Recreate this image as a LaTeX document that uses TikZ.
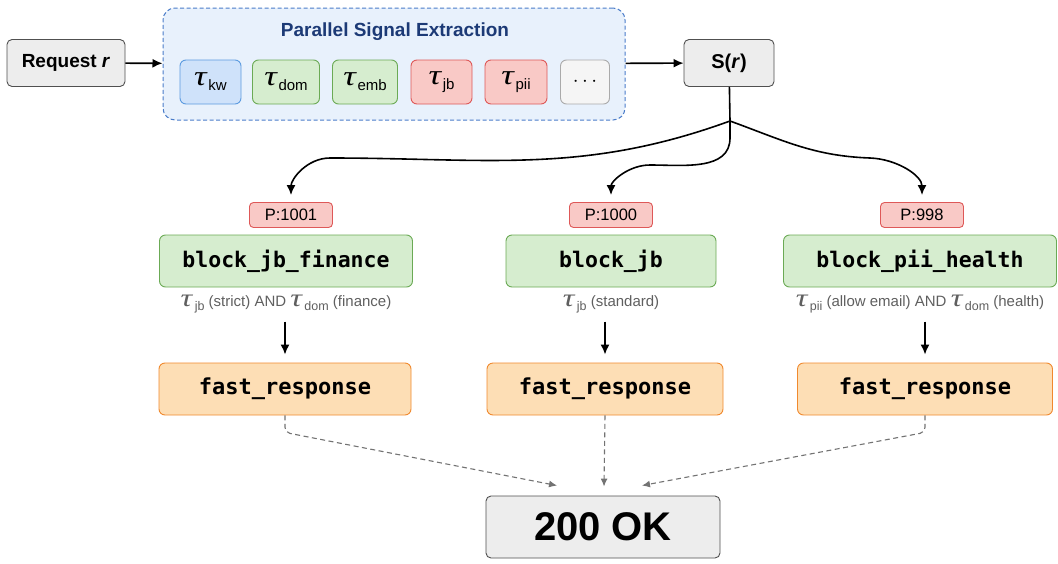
\documentclass[tikz,border=0pt]{standalone}
\usepackage{fontspec}
\setmainfont{Liberation Sans}
\setmonofont{DejaVu Sans Mono}
\newfontfamily\greekfont{Liberation Serif}
\usetikzlibrary{arrows.meta}
\definecolor{boxgray}{RGB}{237, 237, 237}
\definecolor{edgegray}{RGB}{80, 80, 80}
\definecolor{sigfill}{RGB}{232, 241, 252}
\definecolor{sigedge}{RGB}{74, 124, 201}
\definecolor{titleblue}{RGB}{28, 58, 118}
\definecolor{kwfill}{RGB}{207, 226, 250}
\definecolor{kwedge}{RGB}{92, 155, 224}
\definecolor{greenfill}{RGB}{214, 237, 207}
\definecolor{greenedge}{RGB}{107, 170, 85}
\definecolor{redfill}{RGB}{249, 201, 198}
\definecolor{rededge}{RGB}{222, 88, 88}
\definecolor{dotfill}{RGB}{245, 245, 245}
\definecolor{dotedge}{RGB}{170, 170, 170}
\definecolor{orangefill}{RGB}{253, 222, 181}
\definecolor{orangeedge}{RGB}{240, 137, 46}
\definecolor{condgray}{RGB}{95, 95, 95}
\definecolor{dashgray}{RGB}{115, 115, 115}
\tikzset{
  box/.style={draw=edgegray, fill=boxgray, rounded corners=5pt, line width=0.9pt},
  chip/.style={rounded corners=6pt, line width=0.9pt, minimum height=44},
  rule/.style={draw=greenedge, fill=greenfill, rounded corners=6pt, line width=0.9pt,
    minimum height=52, font=\fontsize{21.5}{24}\selectfont\ttfamily\bfseries},
  prio/.style={draw=rededge, fill=redfill, rounded corners=4pt, line width=0.9pt,
    minimum width=83, minimum height=25, font=\fontsize{16.5}{17}\selectfont},
  resp/.style={draw=orangeedge, fill=orangefill, rounded corners=6pt, line width=0.9pt,
    minimum height=52, font=\fontsize{22}{24}\selectfont\ttfamily\bfseries},
  cond/.style={text=condgray, font=\fontsize{15}{16}\selectfont},
  flow/.style={-{Latex[length=10pt, width=9pt]}, line width=1.6pt},
  back/.style={-{Latex[length=8pt, width=7pt]}, dashgray, dashed, line width=1.1pt,
    dash pattern=on 5pt off 3.5pt, rounded corners=5pt}
}
\newcommand{\tsub}[1]{\scalebox{1.25}[1]{\fontsize{28}{28}\selectfont\greekfont\itshape τ}\,\raisebox{-5pt}{\fontsize{15}{15}\selectfont #1}}
\newcommand{\ctau}[1]{\scalebox{1.3}[1]{\fontsize{25}{25}\selectfont\greekfont\itshape τ}\,\raisebox{-4pt}{\fontsize{12.5}{12.5}\selectfont #1}}
\newcommand{\sig}[5]{
  \node[chip, #1, minimum width=#4] (#2) at (#3, 82) {#5};
}

\begin{document}
\begin{tikzpicture}[x=1pt, y=-1pt]
  \useasboundingbox (0, 0) rectangle (1058, 563);

  % top row
  \node[box, minimum width=118, minimum height=47, font=\fontsize{19}{20}\selectfont\bfseries] (req) at (66, 63) {Request \textit{r}};
  \node[draw=sigedge, fill=sigfill, dashed, dash pattern=on 4pt off 2.5pt, line width=1pt, rounded corners=12pt,
    minimum width=462, minimum height=112] (extract) at (394, 64) {};
  \node[text=titleblue, font=\fontsize{19}{20}\selectfont\bfseries] (title) at (395, 32) {Parallel Signal Extraction};

  \sig{fill=kwfill, draw=kwedge}{kw}{210.5}{61}{\tsub{kw}}
  \sig{fill=greenfill, draw=greenedge}{dom}{286}{67}{\tsub{dom}}
  \sig{fill=greenfill, draw=greenedge}{emb}{365}{65}{\tsub{emb}}
  \sig{fill=redfill, draw=rededge}{jb}{441.5}{61}{\tsub{jb}}
  \sig{fill=redfill, draw=rededge}{pii}{516}{62}{\tsub{pii}}
  \sig{fill=dotfill, draw=dotedge}{more}{585}{49}{\fontsize{20}{20}\selectfont\bfseries$\cdots$}

  \node[box, minimum width=90, minimum height=47, font=\fontsize{20}{22}\selectfont\bfseries] (sr) at (729, 63) {S(\textit{r})};

  \draw[flow] (req) -- (extract);
  \draw[flow] (extract) -- (sr);

  % rules
  \node[prio] (p1) at (291, 215) {P:1001};
  \node[prio] (p2) at (611, 215) {P:1000};
  \node[prio] (p3) at (922, 215) {P:998};

  \node[rule, minimum width=253] (r1) at (286, 261) {block\_jb\_finance};
  \node[rule, minimum width=210] (r2) at (611, 261) {block\_jb};
  \node[rule, minimum width=273] (r3) at (920, 261) {block\_pii\_health};

  \node[cond] (c1) at (286, 304) {\ctau{jb} (strict) AND \ctau{dom} (finance)};
  \node[cond] (c2) at (611, 304) {\ctau{jb} (standard)};
  \node[cond] (c3) at (920, 304) {\ctau{pii} (allow email) AND \ctau{dom} (health)};

  \node[resp, minimum width=252] (f1) at (285, 389) {fast\_response};
  \node[resp, minimum width=236] (f2) at (605, 389) {fast\_response};
  \node[resp, minimum width=255] (f3) at (925, 389) {fast\_response};

  \node[box, minimum width=234, minimum height=62, font=\fontsize{40}{42}\selectfont\bfseries] (ok) at (603, 527) {200 OK};

  % fan out from S(r)
  \coordinate (split) at (730, 121);
  \draw[line width=1.6pt] (sr) -- (split);
  \draw[flow, shorten >=7pt] (split) to[out=200, in=0] (330, 158) to[out=180, in=90] (p1.north);
  \draw[flow, shorten >=7pt] (split) -- (730, 138) to[out=-90, in=0] (650, 165) to[out=180, in=90] (p2.north);
  \draw[flow, shorten >=7pt] (split) to[out=-20, in=178] (870, 158) to[out=-2, in=90] (p3.north);

  \draw[flow, shorten <=5pt, shorten >=8pt] (c1.south -| f1.north) -- (f1.north);
  \draw[flow, shorten <=5pt, shorten >=8pt] (c2.south -| f2.north) -- (f2.north);
  \draw[flow, shorten <=5pt, shorten >=8pt] (c3.south -| f3.north) -- (f3.north);

  % back to the client
  \draw[back] (f1.south) -- ++(0, 17) -- ([xshift=-46pt, yshift=10pt]ok.north);
  \draw[back] (f2.south) -- ([xshift=1pt, yshift=9pt]ok.north);
  \draw[back] (f3.south) -- ++(0, 17) -- ([xshift=39pt, yshift=10pt]ok.north);
\end{tikzpicture}
\end{document}
